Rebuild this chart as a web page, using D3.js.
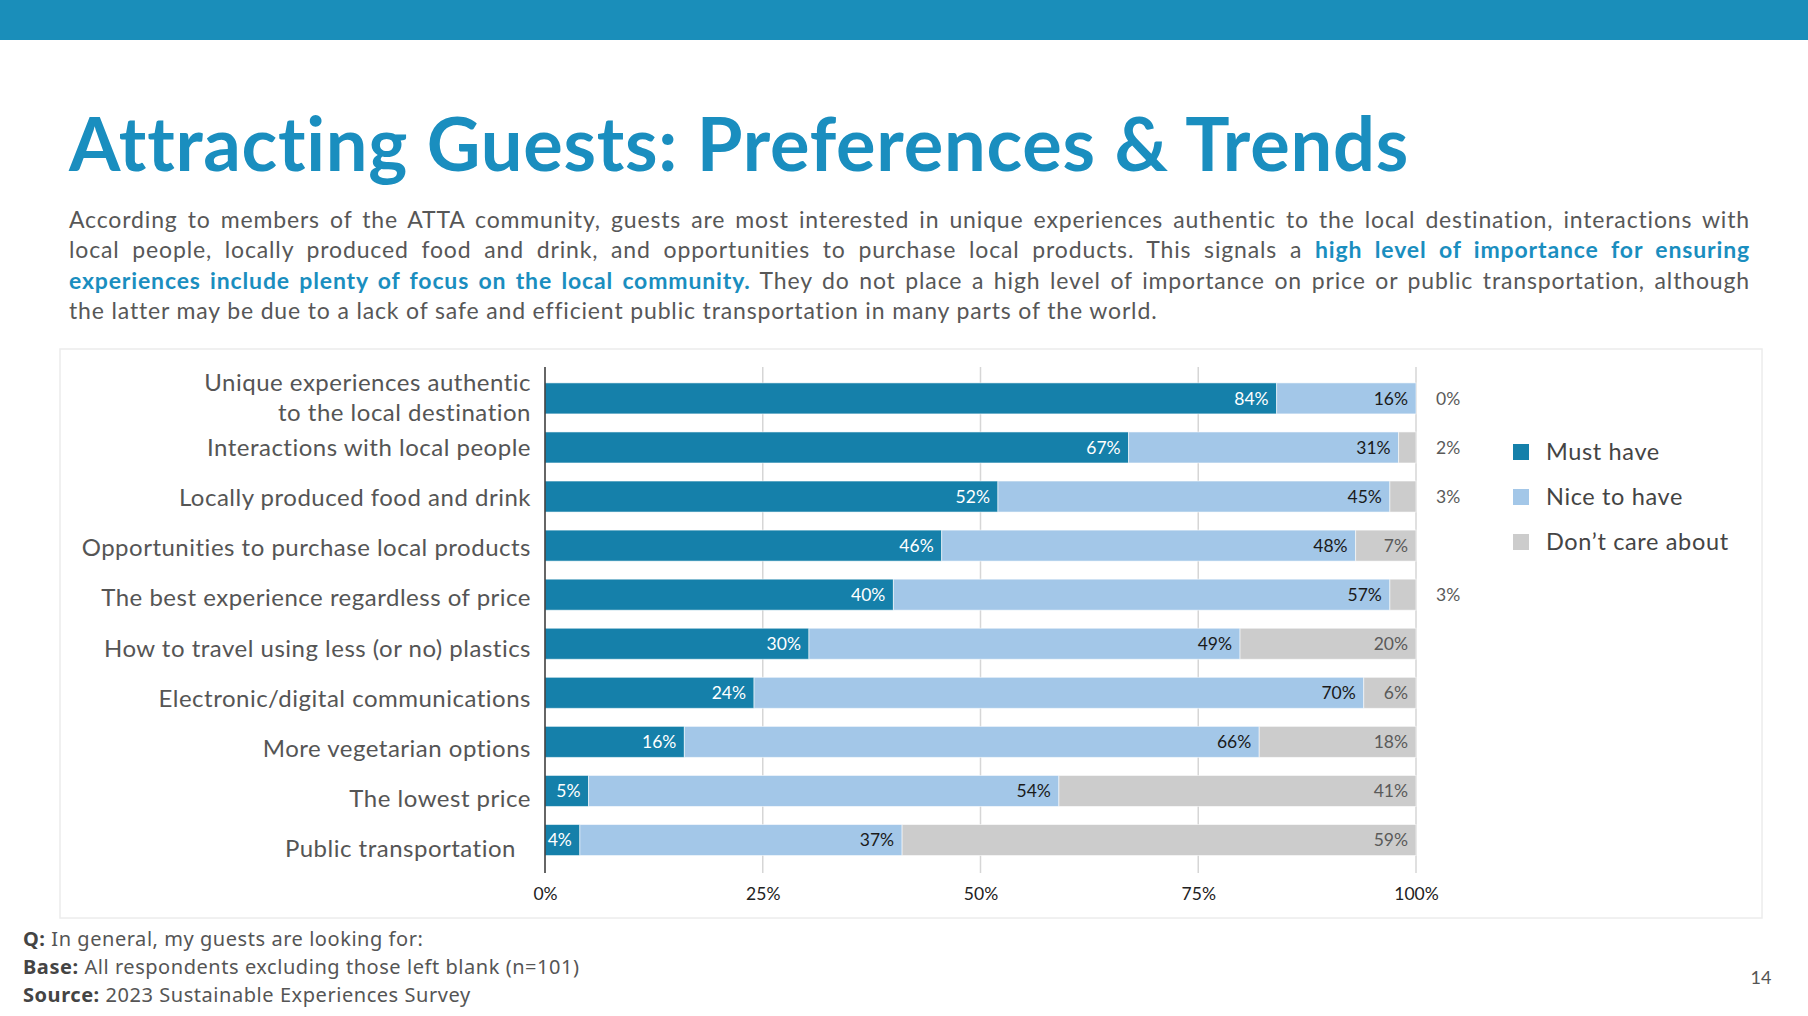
<!DOCTYPE html>
<html>
<head>
<meta charset="utf-8">
<script src="https://cdn.jsdelivr.net/npm/d3@7"></script>
<style>
  html, body { margin: 0; padding: 0; background: #fff; }
  body { width: 1808px; height: 1016px; overflow: hidden; position: relative; font-family: Lato, "Open Sans", sans-serif; font-variant-ligatures: none; }
  #para { position: absolute; left: 69px; top: 204px; width: 1681px; font-size: 23px; color: #575757; letter-spacing: 0.85px; }
  #para .ln { height: 30.3px; line-height: 30.3px; text-align: justify; text-align-last: justify; white-space: nowrap; }
  #para .ln.last { text-align-last: left; }
  #para .hl { color: #1A8EBF; font-weight: 700; }
  svg { position: absolute; left: 0; top: 0; }
  svg text { font-variant-ligatures: none; }
</style>
</head>
<body>
<svg id="chart" width="1808" height="1016"></svg>
<div id="para"></div>
<script>
// ---------------- data ----------------
const categories = [
  "Unique experiences authentic\nto the local destination",
  "Interactions with local people",
  "Locally produced food and drink",
  "Opportunities to purchase local products",
  "The best experience regardless of price",
  "How to travel using less (or no) plastics",
  "Electronic/digital communications",
  "More vegetarian options",
  "The lowest price",
  "Public transportation"
];
const mustHave   = [84, 67, 52, 46, 40, 30, 24, 16, 5, 4];
const niceToHave = [16, 31, 45, 48, 57, 49, 70, 66, 54, 37];
const dontCare   = [0, 2, 3, 7, 3, 20, 6, 18, 41, 59];
const seriesKeys = ["must", "nice", "dont"];
const seriesNames = ["Must have", "Nice to have", "Don\u2019t care about"];
const xTickValues = [0, 0.25, 0.5, 0.75, 1];

const titleText = "Attracting Guests: Preferences & Trends";
const paraLines = [
  [["According to members of the ATTA community, guests are most interested in unique experiences authentic to the local destination, interactions with", false]],
  [["local people, locally produced food and drink, and opportunities to purchase local products. This signals a ", false], ["high level of importance for ensuring", true]],
  [["experiences include plenty of focus on the local community.", true], [" They do not place a high level of importance on price or public transportation, although", false]],
  [["the latter may be due to a lack of safe and efficient public transportation in many parts of the world.", false]]
];
const footerLines = [
  ["Q:", " In general, my guests are looking for:"],
  ["Base:", " All respondents excluding those left blank (n=101)"],
  ["Source:", " 2023 Sustainable Experiences Survey"]
];
const pageNumber = "14";

// ---------------- styles ----------------
const colors = { must: "#1580AA", nice: "#A3C7E8", dont: "#CCCCCC" };
const labelColors = { must: "#FFFFFF", nice: "#1A1A1A", dont: "#5A5A5A" };

const svg = d3.select("#chart");

// top band
svg.append("rect").attr("x", 0).attr("y", 0).attr("width", 1808).attr("height", 40).attr("fill", "#1A8EBA");

// title
svg.append("text").attr("x", 69).attr("y", 171)
  .attr("font-family", "Lato, sans-serif").attr("font-weight", 700).attr("font-size", 74)
  .attr("letter-spacing", 0.75)
  .attr("fill", "#1A8EBF").text(titleText);

// paragraph
const para = d3.select("#para");
paraLines.forEach((parts, i) => {
  const ln = para.append("div").attr("class", "ln" + (i === paraLines.length - 1 ? " last" : ""));
  parts.forEach(([t, hl]) => {
    ln.append("span").attr("class", hl ? "hl" : null).text(t);
  });
});

// chart frame
svg.append("rect").attr("x", 60).attr("y", 349).attr("width", 1702).attr("height", 569)
  .attr("fill", "#fff").attr("stroke", "#ECECEC").attr("stroke-width", 1.5);

// data table
const rows = categories.map((c, i) => ({ cat: c, must: mustHave[i], nice: niceToHave[i], dont: dontCare[i] }));
const stacked = d3.stack().keys(seriesKeys).offset(d3.stackOffsetExpand)(rows);

const x = d3.scaleLinear().domain([0, 1]).range([545, 1416]);
const step = 49.07;
const y = d3.scaleBand().domain(categories).range([398.4 - step / 2, 398.4 - step / 2 + step * categories.length])
  .paddingInner(0.368).paddingOuter(0.184);
// label positions (slightly different spacing from bars in original)
const yLab = d3.scalePoint().domain(categories).range([397.2, 397.2 + 50.15 * (categories.length - 1)]);

const plotTop = 367, plotBottom = 873;

// gridlines
svg.append("g").selectAll("line").data(xTickValues.filter(d => d > 0)).join("line")
  .attr("x1", d => x(d)).attr("x2", d => x(d)).attr("y1", plotTop).attr("y2", plotBottom)
  .attr("stroke", "#D6D6D6").attr("stroke-width", 1.5);

// bars
const gBars = svg.append("g");
stacked.forEach(s => {
  gBars.append("g").selectAll("rect").data(s).join("rect")
    .attr("x", d => x(d[0]))
    .attr("y", d => y(d.data.cat))
    .attr("width", d => Math.max(0, x(d[1]) - x(d[0])))
    .attr("height", y.bandwidth())
    .attr("fill", colors[s.key])
    .attr("stroke", "rgba(255,255,255,0.55)").attr("stroke-width", 1);
});

// value labels
const gLab = svg.append("g").attr("font-family", "Lato, sans-serif").attr("font-size", 17.5);
stacked.forEach(s => {
  gLab.append("g").selectAll("text").data(s).join("text")
    .attr("x", d => {
      const v = d.data[s.key];
      if (s.key === "dont" && v <= 3) return x(1) + 20;
      return x(d[1]) - 8;
    })
    .attr("y", d => y(d.data.cat) + y.bandwidth() / 2)
    .attr("dy", "0.36em")
    .attr("text-anchor", d => (s.key === "dont" && d.data[s.key] <= 3) ? "start" : "end")
    .attr("fill", d => (s.key === "dont" && d.data[s.key] <= 3) ? "#5A5A5A" : labelColors[s.key])
    .text(d => d.data[s.key] + "%");
});

// y axis line
svg.append("line").attr("x1", x(0)).attr("x2", x(0)).attr("y1", plotTop).attr("y2", plotBottom)
  .attr("stroke", "#333").attr("stroke-width", 1.5);

// x axis tick labels
const xAxis = d3.axisBottom(x).tickValues(xTickValues).tickFormat(d3.format(".0%")).tickSize(0).tickPadding(0);
const gx = svg.append("g").attr("transform", `translate(0, ${894 - 6})`).call(xAxis);
gx.select(".domain").remove();
gx.selectAll("text").attr("font-family", "Lato, sans-serif").attr("font-size", 17.5).attr("fill", "#222")
  .attr("dy", "0.36em").attr("y", 6);

// category labels
const gCat = svg.append("g").attr("font-family", "Lato, sans-serif").attr("font-size", 24)
  .attr("letter-spacing", 0.5).attr("fill", "#555");
categories.forEach((c, i) => {
  const lines = c.split("\n");
  const cy = yLab(c);
  const lh = 30;
  const t = gCat.append("text").attr("text-anchor", "end");
  const xr = i === categories.length - 1 ? 516 : 531;
  lines.forEach((l, j) => {
    t.append("tspan").attr("x", xr).attr("y", cy + (j - (lines.length - 1) / 2) * lh).attr("dy", "0.36em").text(l);
  });
});

// legend
const gLeg = svg.append("g");
seriesKeys.forEach((k, i) => {
  const cy = 452 + i * 45;
  gLeg.append("rect").attr("x", 1513).attr("y", cy - 8).attr("width", 16).attr("height", 16).attr("fill", colors[k]);
  gLeg.append("text").attr("x", 1546).attr("y", cy).attr("dy", "0.36em")
    .attr("font-family", "Lato, sans-serif").attr("font-size", 23.5).attr("letter-spacing", 0.65)
    .attr("fill", "#444").text(seriesNames[i]);
});

// footer
footerLines.forEach(([b, t], i) => {
  const tx = svg.append("text").attr("x", 23).attr("y", 939 + i * 28).attr("dy", "0.36em")
    .attr("font-family", "'Noto Sans', sans-serif").attr("font-size", 20).attr("letter-spacing", 0.55)
    .attr("fill", "#555");
  tx.append("tspan").attr("font-weight", 700).attr("fill", "#444").text(b);
  tx.append("tspan").text(t);
});

// page number
svg.append("text").attr("x", 1761).attr("y", 978).attr("dy", "0.36em").attr("text-anchor", "middle")
  .attr("font-family", "Lato, sans-serif").attr("font-size", 18).attr("fill", "#555").text(pageNumber);
</script>
</body>
</html>
